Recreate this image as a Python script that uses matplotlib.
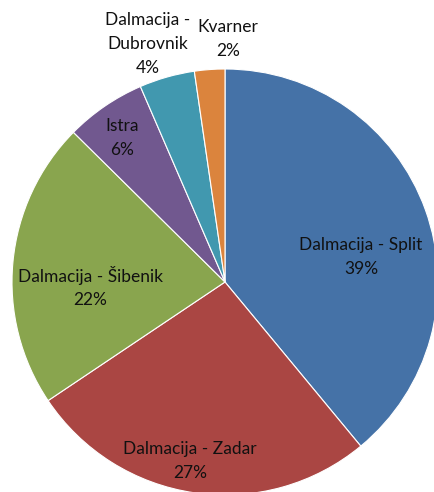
import matplotlib
matplotlib.use('Agg')
import matplotlib.pyplot as plt

# Regions and their shares (%)
regions = ['Dalmacija - Split', 'Dalmacija - Zadar', 'Dalmacija - Šibenik',
           'Istra', 'Dalmacija -\nDubrovnik', 'Kvarner']
shares = [39.0, 26.6, 21.8, 6.1, 4.2, 2.3]
colors = ['#4572A7', '#AA4643', '#89A54E', '#71588F', '#4198AF', '#DB843D']

# label anchor points in pixel space (x from left, y from top)
label_pos = [(361, 257), (190, 461), (90, 287), (122, 138), (148, 44), (228, 39)]

W, H = 434, 492
fig = plt.figure(figsize=(W / 100, H / 100), dpi=100)
ax = fig.add_axes([0, 0, 1, 1])

ax.pie(shares, colors=colors, startangle=90, counterclock=False,
       center=(225, H - 282), radius=213, frame=True,
       wedgeprops={'edgecolor': 'white', 'linewidth': 0.8})
ax.set_xlim(0, W)
ax.set_ylim(0, H)
ax.axis('off')

for name, val, (px, py) in zip(regions, shares, label_pos):
    ax.text(px, H - py, f'{name}\n{round(val):.0f}%', ha='center', va='center',
            fontsize=12.5, family='Lato', color='#111111', linespacing=1.6)

fig.savefig('out.png', dpi=100)
